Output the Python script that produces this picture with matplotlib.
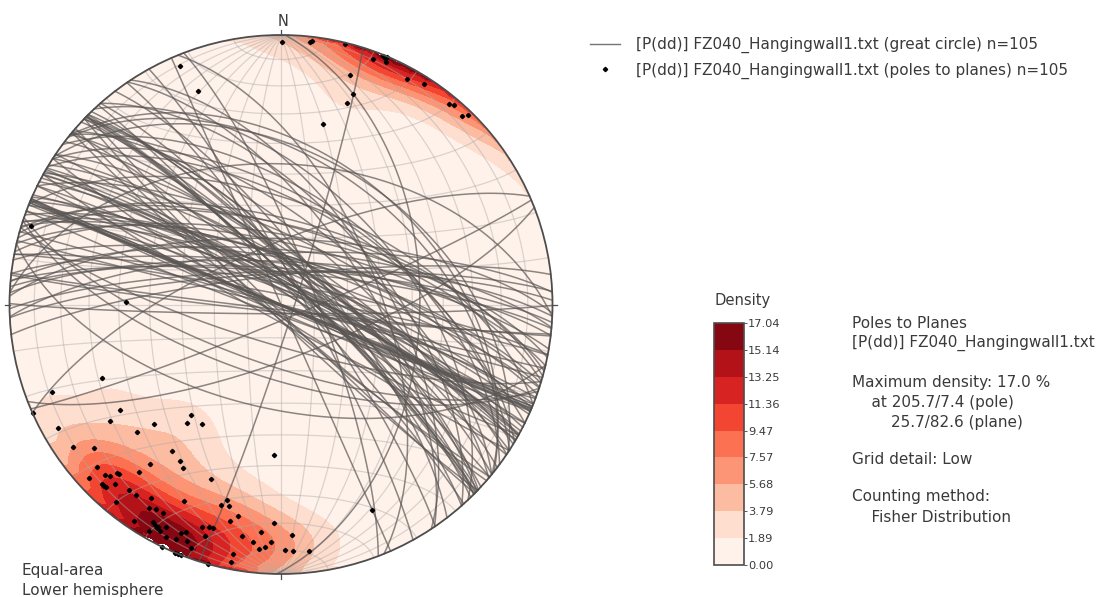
# Stereonet of FZ040 hanging wall planes, poles and Fisher density
import numpy as np
import matplotlib
matplotlib.use('Agg')
import matplotlib.pyplot as plt
from matplotlib.colors import ListedColormap, BoundaryNorm
from matplotlib.lines import Line2D
from matplotlib.patches import Circle
from matplotlib.cm import ScalarMappable

# poles to planes
pole_trend = [247.7, 249.0, 246.2, 236.4, 235.6, 240.9, 226.5,
              228.3, 219.0, 218.3, 213.3, 235.4, 232.3, 216.4,
              212.7, 210.7, 219.1, 220.1, 228.3, 201.8, 182.6,
              227.7, 225.7, 224.8, 223.9, 223.4, 224.7, 224.1,
              223.6, 222.6, 219.1, 217.2, 219.8, 213.8, 206.1,
              212.8, 211.2, 209.2, 213.9, 210.4, 209.6, 208.7,
              208.0, 207.1, 210.1, 206.1, 204.0, 203.5, 202.5,
              201.6, 200.2, 206.1, 202.9, 201.7, 199.4,
              197.8, 196.9, 198.0, 195.7, 196.5, 195.4, 194.3,
              191.3, 193.1, 181.8, 189.5, 184.9, 186.6, 185.1,
              183.8, 182.5, 177.4, 179.1, 177.2, 173.6, 190.7,
              190.8, 224.3, 208.9, 202.2, 0.2, 6.3, 6.7,
              13.7, 16.6, 18.8, 18.1, 13.0, 20.4, 22.2,
              22.6, 23.1, 23.2, 28.9, 32.8, 39.7, 40.8,
              43.6, 44.5, 22.7, 287.6, 270.9, 337.2, 338.9,
              156.3]
pole_plunge = [29.3, 10.5, 0.0, 29.7, 24.7, 6.6, 35.8,
               29.5, 46.2, 43.3, 45.8, 7.5, 13.8, 33.1,
               31.6, 30.0, 24.7, 20.0, 10.2, 31.0, 43.3,
               4.7, 10.3, 11.5, 14.1, 14.5, 7.0, 7.0,
               7.3, 10.5, 12.4, 12.4, 5.4, 14.7, 20.0,
               11.0, 12.4, 12.2, 3.6, 7.3, 6.6, 6.7,
               5.6, 8.2, 3.4, 4.3, 5.4, 8.2, 9.6,
               6.4, 4.4, 0.0, 0.0, 0.0, 13.7,
               14.5, 14.5, 10.6, 0.0, 23.5, 25.6, 23.9,
               20.9, 18.5, 19.9, 14.0, 16.5, 12.4, 9.8,
               10.9, 13.0, 15.5, 9.9, 9.3, 8.8, 6.3,
               3.0, 7.1, 5.8, 0.0, 2.8, 2.4, 1.6,
               0.4, 12.3, 18.6, 22.4, 31.8, 3.2, 0.4,
               0.4, 0.3, 2.4, 4.8, 3.2, 3.7, 2.7,
               3.6, 1.8, 1.1, 3.9, 42.4, 4.5, 16.2,
               17.8]

density_ticks = [0.00, 1.89, 3.79, 5.68, 7.57, 9.47, 11.36, 13.25, 15.14, 17.04]
legend_labels = ['[P(dd)] FZ040_Hangingwall1.txt (great circle) n=105',
                 '[P(dd)] FZ040_Hangingwall1.txt (poles to planes) n=105']
info_lines = ['Poles to Planes', '[P(dd)] FZ040_Hangingwall1.txt', '',
              'Maximum density: 17.0 %', '    at 205.7/7.4 (pole)', '        25.7/82.6 (plane)', '',
              'Grid detail: Low', '', 'Counting method:', '    Fisher Distribution']
info_y = [324, 343, None, 382, 402, 422, None, 459, None, 497, 517]

W, H = 1104, 597
text_color = '#3a3a3a'
plt.rcParams['font.family'] = 'DejaVu Sans'


def to_vectors(trend, plunge):
    t = np.radians(trend)
    p = np.radians(plunge)
    return np.column_stack([np.cos(p) * np.sin(t), np.cos(p) * np.cos(t), np.sin(p)])


def project(e, n, d):
    # equal-area, lower hemisphere, unit circle
    s = np.sqrt(1 + d)
    return e / s, n / s


fig = plt.figure(figsize=(W / 100, H / 100), dpi=100)
cx, cy, rx, ry = 281, 304.5, 271.5, 269.5
ax = fig.add_axes([(cx - rx) / W, 1 - (cy + ry) / H, 2 * rx / W, 2 * ry / H])
ax.set_xlim(-1, 1)
ax.set_ylim(-1, 1)
ax.axis('off')

poles = to_vectors(np.array(pole_trend), np.array(pole_plunge))

# density from the poles, fisher kernel on a coarse grid
gx, gy = np.meshgrid(np.linspace(-1, 1, 70), np.linspace(-1, 1, 70))
r2 = np.clip(gx**2 + gy**2, 0, 1)
gd = 1 - r2
scale = np.sqrt(1 + gd)
gv = np.stack([gx * scale, gy * scale, gd], axis=-1)
cosang = np.abs(gv @ poles.T)
dens = np.exp(45 * (cosang - 1)).sum(axis=-1)
dens = dens / dens[gx**2 + gy**2 <= 1].max() * density_ticks[-1]

colors = plt.cm.Reds(np.linspace(0.02, 0.94, 9))
cmap = ListedColormap(colors)
norm = BoundaryNorm(density_ticks, cmap.N)
disk = Circle((0, 0), 1, transform=ax.transData, facecolor='none', edgecolor='none')
ax.add_patch(disk)
cf = ax.contourf(gx, gy, dens, levels=density_ticks, cmap=cmap, norm=norm, extend='neither', zorder=1)
cf.set_clip_path(disk)

# net, 10 degree spacing
u = np.radians(np.linspace(-90, 90, 181))
for a in np.radians(np.arange(-80, 81, 10)):
    x1, y1 = project(np.cos(u) * np.sin(a), np.sin(u), np.cos(u) * np.cos(a))
    ax.plot(x1, y1, color='#b0aaa7', lw=0.9, alpha=0.45, zorder=2)
    x2, y2 = project(np.cos(a) * np.sin(u), np.sin(a) * np.ones_like(u), np.cos(a) * np.cos(u))
    ax.plot(x2, y2, color='#b0aaa7', lw=0.9, alpha=0.45, zorder=2)

# great circles of the planes
s = np.linspace(0, np.pi, 121)
for t, p in zip(pole_trend, pole_plunge):
    tr = np.radians(t)
    pl = np.radians(p)
    strike = np.array([np.cos(tr), -np.sin(tr), 0])
    dip = np.array([-np.sin(pl) * np.sin(tr), -np.sin(pl) * np.cos(tr), np.cos(pl)])
    v = np.outer(np.cos(s), strike) + np.outer(np.sin(s), dip)
    xp, yp = project(v[:, 0], v[:, 1], np.clip(v[:, 2], 0, 1))
    ax.plot(xp, yp, color='#5a5654', lw=1.1, alpha=0.7, zorder=3)

xp, yp = project(poles[:, 0], poles[:, 1], poles[:, 2])
ax.plot(xp, yp, linestyle='none', marker='D', ms=2.2, color='black', zorder=4, clip_on=False)

# outer circle and the four ticks
ax.add_patch(Circle((0, 0), 1, fill=False, edgecolor='#4d4d4d', lw=1.3, zorder=5, clip_on=False))
ax.plot([0, 0], [1, 1.018], color='#4d4d4d', lw=0.9, clip_on=False)
ax.plot([0, 0], [-1, -1.018], color='#4d4d4d', lw=0.9, clip_on=False)
ax.plot([1, 1.018], [0, 0], color='#4d4d4d', lw=0.9, clip_on=False)
ax.plot([-1, -1.018], [0, 0], color='#4d4d4d', lw=0.9, clip_on=False)

fig.text(283 / W, 1 - 21 / H, 'N', ha='center', va='center', fontsize=10.5, color=text_color)
fig.text(22 / W, 1 - 571 / H, 'Equal-area', va='center', fontsize=11, color=text_color)
fig.text(22 / W, 1 - 590 / H, 'Lower hemisphere', va='center', fontsize=11, color=text_color)

handles = [Line2D([], [], color='#777371', lw=1.0),
           Line2D([], [], linestyle='none', marker='D', ms=2.2, color='black')]
fig.legend(handles, legend_labels, loc='upper left', bbox_to_anchor=(590 / W, 1 - 37 / H), frameon=False,
           fontsize=11, labelcolor=text_color, handlelength=1.96, handletextpad=1.05, labelspacing=0.62,
           borderaxespad=0, borderpad=0)

# colour bar
cax = fig.add_axes([714 / W, 1 - 565 / H, 30 / W, 242 / H])
cb = fig.colorbar(ScalarMappable(norm=norm, cmap=cmap), cax=cax, spacing='uniform', ticks=density_ticks)
cb.ax.set_yticklabels(['%.2f' % v for v in density_ticks], fontsize=8.2, color=text_color)
cb.ax.tick_params(length=2, width=0.7, pad=1, color='#555555')
cb.outline.set_edgecolor('#4d4d4d')
cb.outline.set_linewidth(1.2)
fig.text(743 / W, 1 - 301 / H, 'Density', ha='center', va='center', fontsize=10.6, color=text_color)

for line, y in zip(info_lines, info_y):
    if y is not None:
        fig.text(852 / W, 1 - y / H, line, va='center', fontsize=11, color=text_color)

fig.savefig('out.png', dpi=100)
